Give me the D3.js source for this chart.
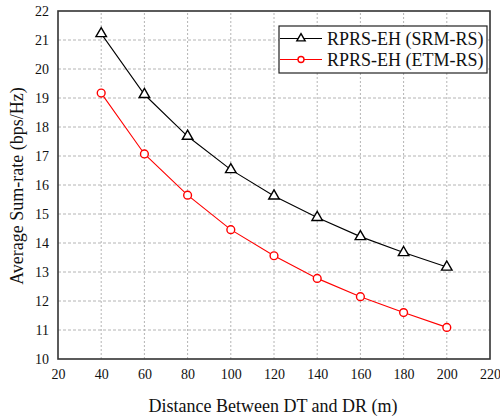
<!DOCTYPE html>
<html>
<head>
<style>
  body { margin: 0; background: #fff; }
</style>
<script src="https://d3js.org/d3.v7.min.js"></script>
</head>
<body>
<script>
// data
var distances = [40, 60, 80, 100, 120, 140, 160, 180, 200];
var srmRates = [21.22, 19.12, 17.68, 16.53, 15.62, 14.88, 14.22, 13.67, 13.17];
var etmRates = [19.17, 17.07, 15.65, 14.46, 13.56, 12.78, 12.15, 11.6, 11.09];
var xTicks = [20, 40, 60, 80, 100, 120, 140, 160, 180, 200, 220];
var yTicks = [10, 11, 12, 13, 14, 15, 16, 17, 18, 19, 20, 21, 22];
var seriesNames = ["RPRS-EH (SRM-RS)", "RPRS-EH (ETM-RS)"];

var serif = "'Liberation Serif', 'Times New Roman', serif";
var width = 500, height = 418;
var m = { left: 58, top: 11, right: 10, bottom: 59 };

var svg = d3.select("body").append("svg")
    .attr("width", width).attr("height", height)
    .style("font-family", serif);

var x = d3.scaleLinear().domain([20, 220]).range([m.left, width - m.right]);
var y = d3.scaleLinear().domain([10, 22]).range([height - m.bottom, m.top]);

// grid
var grid = svg.append("g");
grid.selectAll(".gx").data(xTicks.slice(1, -1)).enter().append("line")
    .attr("x1", d => x(d)).attr("x2", d => x(d))
    .attr("y1", y(10)).attr("y2", y(22))
    .attr("stroke", "#b4b4b4").attr("stroke-width", 1).attr("stroke-dasharray", "2,2");
grid.selectAll(".gy").data(yTicks.slice(1, -1)).enter().append("line")
    .attr("y1", d => y(d)).attr("y2", d => y(d))
    .attr("x1", x(20)).attr("x2", x(220))
    .attr("stroke", "#b4b4b4").attr("stroke-width", 1).attr("stroke-dasharray", "3,2");

// axes (labels only, box drawn separately)
var xAxis = svg.append("g")
    .attr("transform", "translate(0," + y(10) + ")")
    .call(d3.axisBottom(x).tickValues(xTicks).tickSize(0).tickPadding(10));
var yAxis = svg.append("g")
    .attr("transform", "translate(" + x(20) + ",0)")
    .call(d3.axisLeft(y).tickValues(yTicks).tickSize(0).tickPadding(9));
[xAxis, yAxis].forEach(function(a) {
  a.attr("font-family", null).attr("font-size", null);
  a.select(".domain").remove();
  a.selectAll("text").style("font-family", serif).style("font-size", "14px").attr("fill", "#111");
});

svg.append("rect")
    .attr("x", x(20)).attr("y", y(22))
    .attr("width", x(220) - x(20)).attr("height", y(10) - y(22))
    .attr("fill", "none").attr("stroke", "#333").attr("stroke-width", 1.6);

// lines
var line = d3.line().x((d, i) => x(distances[i])).y(d => y(d));
svg.append("path").datum(srmRates).attr("d", line)
    .attr("fill", "none").attr("stroke", "#000").attr("stroke-width", 1.1);
svg.append("path").datum(etmRates).attr("d", line)
    .attr("fill", "none").attr("stroke", "#ff0000").attr("stroke-width", 1.1);

var tri = d3.symbol().type(d3.symbolTriangle).size(48);
svg.selectAll(".tri").data(srmRates).enter().append("path")
    .attr("d", tri)
    .attr("transform", (d, i) => "translate(" + x(distances[i]) + "," + y(d) + ")")
    .attr("fill", "#fff").attr("stroke", "#000").attr("stroke-width", 1.4);
svg.selectAll(".circ").data(etmRates).enter().append("circle")
    .attr("cx", (d, i) => x(distances[i])).attr("cy", d => y(d)).attr("r", 3.9)
    .attr("fill", "#fff").attr("stroke", "#ff0000").attr("stroke-width", 1.4);

// legend
var lg = svg.append("g").attr("transform", "translate(279,26)");
lg.append("rect").attr("width", 208).attr("height", 47)
    .attr("fill", "#fff").attr("stroke", "#222").attr("stroke-width", 1.2);
[0, 1].forEach(function(i) {
  var cy = 12.5 + i * 21;
  var col = i === 0 ? "#000" : "#ff0000";
  lg.append("line").attr("x1", 1).attr("x2", 43).attr("y1", cy).attr("y2", cy)
      .attr("stroke", col).attr("stroke-width", 1.1);
  if (i === 0) {
    lg.append("path").attr("d", d3.symbol().type(d3.symbolTriangle).size(30))
        .attr("transform", "translate(22," + cy + ")")
        .attr("fill", "#fff").attr("stroke", "#000").attr("stroke-width", 1.4);
  } else {
    lg.append("circle").attr("cx", 22).attr("cy", cy).attr("r", 3)
        .attr("fill", "#fff").attr("stroke", "#ff0000").attr("stroke-width", 1.4);
  }
  lg.append("text").attr("x", 48).attr("y", cy + 6.5)
      .style("font-size", "18px").attr("fill", "#111").text(seriesNames[i]);
});

// axis titles
svg.append("text").attr("x", (x(20) + x(220)) / 2 - 1).attr("y", 412)
    .attr("text-anchor", "middle").style("font-size", "18px").attr("fill", "#111")
    .text("Distance Between DT and DR (m)");
svg.append("text")
    .attr("transform", "translate(23," + (y(16) + 1) + ") rotate(-90)")
    .attr("text-anchor", "middle").style("font-size", "18px").attr("fill", "#111")
    .text("Average Sum-rate (bps/Hz)");
</script>
</body>
</html>
